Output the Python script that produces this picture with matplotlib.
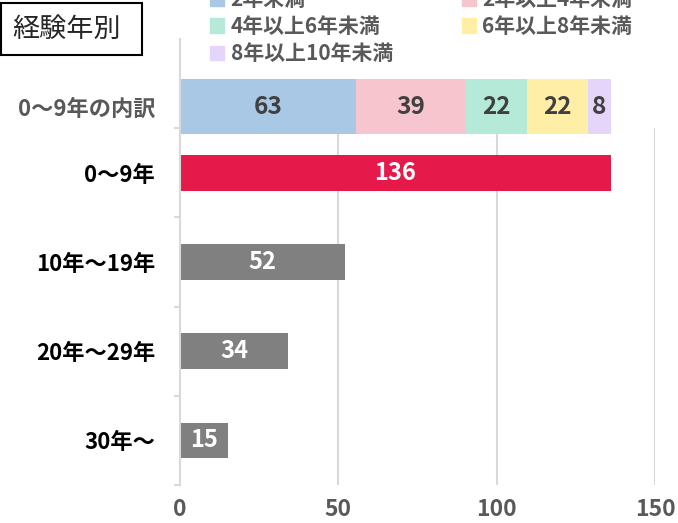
import matplotlib.pyplot as plt
from matplotlib.patches import Patch, Rectangle

plt.rcParams['font.family'] = ['Noto Sans CJK JP', 'DejaVu Sans']

categories = ['0～9年の内訳', '0～9年', '10年～19年', '20年～29年', '30年～']
breakdown_labels = ['2年未満', '2年以上4年未満', '4年以上6年未満', '6年以上8年未満', '8年以上10年未満']
breakdown_values = [63, 39, 22, 22, 8]
breakdown_colors = ['#A9C8E6', '#F7C5CD', '#B4EAD7', '#FFEFA6', '#E6D5FA']
totals = [136, 52, 34, 15]
total_colors = ['#E5194A', '#808080', '#808080', '#808080']
x_ticks = [0, 50, 100, 150]

W, H = 678, 523
fig = plt.figure(figsize=(W / 100, H / 100), dpi=100)
ax = fig.add_axes([180 / W, 38 / H, 475 / W, 446 / H])

grey_txt = '#595959'
line_c = '#D9D9D9'

# breakdown bar is stretched so that it spans the same length as the 0~9 total
y_stack = 0.26
scale = totals[0] / sum(breakdown_values)
left = 0
for v, c in zip(breakdown_values, breakdown_colors):
    w = v * scale
    ax.barh(y_stack, w, left=left, height=0.62, color=c, zorder=2)
    ax.text(left + w / 2, y_stack, str(v), ha='center', va='center',
            fontsize=17.5, fontweight='bold', color='#404040', zorder=3)
    left += w

# totals
for i, (v, c) in enumerate(zip(totals, total_colors)):
    y = i + 1
    ax.barh(y, v, height=0.4, color=c, zorder=2)
    ax.text(v / 2, y, str(v), ha='center', va='center',
            fontsize=17, fontweight='bold', color='white', zorder=3)

ax.set_xlim(0, 150)
ax.set_ylim(4.5, -0.5)
ax.vlines(x_ticks[1:], 0.5, 4.5, color=line_c, lw=1.5, zorder=0)

for s in ['top', 'right', 'bottom']:
    ax.spines[s].set_visible(False)
ax.spines['left'].set_color(line_c)
ax.spines['left'].set_linewidth(1.5)

ax.set_xticks(x_ticks)
ax.set_xticklabels([str(t) for t in x_ticks], fontsize=16.5, fontweight='bold', color=grey_txt)
ax.tick_params(axis='x', length=0, pad=9)

ax.set_yticks([0.5, 1.5, 2.5, 3.5, 4.5])
ax.set_yticklabels([])
ax.tick_params(axis='y', which='major', length=4, width=1.5, color=line_c)
ax.set_yticks([y_stack, 1, 2, 3, 4], minor=True)
ax.set_yticklabels(categories, minor=True, fontsize=16, fontweight='bold')
ax.tick_params(axis='y', which='minor', length=0, pad=18)
labs = ax.get_yticklabels(minor=True)
labs[0].set_color(grey_txt)
for t in labs[1:]:
    t.set_color('black')

# legend, filled row by row like the original
handles = [Patch(color=c) for c in breakdown_colors]
order = [0, 2, 4, 1, 3]
leg = fig.legend([handles[i] for i in order], [breakdown_labels[i] for i in order],
                 ncol=2, loc='upper left', bbox_to_anchor=(191 / W, 1 + 30 / H),
                 frameon=False, fontsize=15, handlelength=0.7, handleheight=0.7,
                 handletextpad=0.3, columnspacing=3.3, labelspacing=0.3)
for t in leg.get_texts():
    t.set_color(grey_txt)
    t.set_fontweight('bold')

fig.patches.append(Rectangle((1 / W, 1 - 55 / H), 141 / W, 52 / H, transform=fig.transFigure,
                             fill=False, ec='black', lw=1.5))
fig.text(12 / W, 1 - 29 / H, '経験年別', fontsize=19.5, va='center', ha='left', color='#262626')

fig.savefig('out.png', dpi=100)
